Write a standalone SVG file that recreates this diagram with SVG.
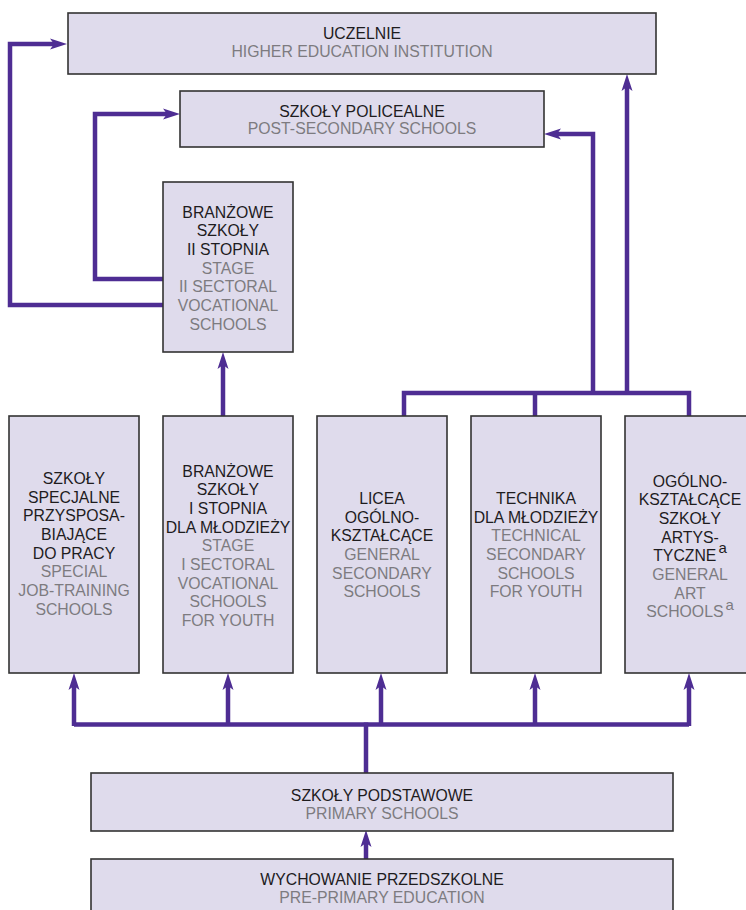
<svg xmlns="http://www.w3.org/2000/svg" width="746" height="910" viewBox="0 0 746 910">
<style>
.box{fill:#dfdbec;stroke:#333333;stroke-width:1.6}
.t{font-family:"Liberation Sans",Arial,sans-serif;font-size:15.8px;text-anchor:middle}
.pl{fill:#1e1c1e}
.en{fill:#7d7b80}
.sup{font-size:15px}
.con{fill:none;stroke:#4e2d93;stroke-width:4.5;stroke-linejoin:miter;stroke-linecap:butt}
</style>
<defs>
<marker id="ah" markerUnits="userSpaceOnUse" viewBox="-18 -7 20 14" markerWidth="20" markerHeight="14" refX="-10" refY="0" orient="auto">
<path d="M0,0 L-17,-5.5 L-13,0 L-17,5.5 Z" fill="#4e2d93"/>
</marker>
</defs>
<rect width="746" height="910" fill="#ffffff"/>

<g id="connectors">
<path class="con" d="M163,305 H10 V44 H57" marker-end="url(#ah)"/>
<path class="con" d="M163,279 H95 V114 H170" marker-end="url(#ah)"/>
<path class="con" d="M223,416 V362" marker-end="url(#ah)"/>
<path class="con" d="M404,416 V393 H689 V416"/>
<path class="con" d="M535,393 V416"/>
<path class="con" d="M593,393 V134 H554" marker-end="url(#ah)"/>
<path class="con" d="M627,393 V84" marker-end="url(#ah)"/>
<path class="con" d="M74,724.5 H689"/>
<path class="con" d="M74,726 V683" marker-end="url(#ah)"/>
<path class="con" d="M228,726 V683" marker-end="url(#ah)"/>
<path class="con" d="M381,726 V683" marker-end="url(#ah)"/>
<path class="con" d="M535,726 V683" marker-end="url(#ah)"/>
<path class="con" d="M689,726 V683" marker-end="url(#ah)"/>
<path class="con" d="M366,773 V722.5"/>
<path class="con" d="M366,859 V840" marker-end="url(#ah)"/>
</g>

<g id="uczelnie">
<rect class="box" x="68" y="13" width="588" height="61"/>
<text class="t pl" x="362" y="39">UCZELNIE</text>
<text class="t en" x="362" y="57">HIGHER EDUCATION INSTITUTION</text>
</g>

<g id="policealne">
<rect class="box" x="180" y="91" width="364" height="56"/>
<text class="t pl" x="362" y="116.7">SZKOŁY POLICEALNE</text>
<text class="t en" x="362" y="134">POST-SECONDARY SCHOOLS</text>
</g>

<g id="branzowe2">
<rect class="box" x="163" y="182" width="130" height="170"/>
<text class="t pl" x="228" y="217.7">BRANŻOWE</text>
<text class="t pl" x="228" y="236.3">SZKOŁY</text>
<text class="t pl" x="228" y="255">II STOPNIA</text>
<text class="t en" x="228" y="273.7">STAGE</text>
<text class="t en" x="228" y="292.3">II SECTORAL</text>
<text class="t en" x="228" y="311">VOCATIONAL</text>
<text class="t en" x="228" y="329.7">SCHOOLS</text>
</g>

<g id="specjalne">
<rect class="box" x="9" y="416" width="130" height="257"/>
<text class="t pl" x="74" y="484">SZKOŁY</text>
<text class="t pl" x="74" y="502.7">SPECJALNE</text>
<text class="t pl" x="74" y="521.3">PRZYSPOSA-</text>
<text class="t pl" x="74" y="540">BIAJĄCE</text>
<text class="t pl" x="74" y="558.7">DO PRACY</text>
<text class="t en" x="74" y="577.3">SPECIAL</text>
<text class="t en" x="74" y="596">JOB-TRAINING</text>
<text class="t en" x="74" y="614.7">SCHOOLS</text>
</g>

<g id="branzowe1">
<rect class="box" x="163" y="416" width="130" height="257"/>
<text class="t pl" x="228" y="476.7">BRANŻOWE</text>
<text class="t pl" x="228" y="495.3">SZKOŁY</text>
<text class="t pl" x="228" y="514">I STOPNIA</text>
<text class="t pl" x="228" y="532.7">DLA MŁODZIEŻY</text>
<text class="t en" x="228" y="551.3">STAGE</text>
<text class="t en" x="228" y="570">I SECTORAL</text>
<text class="t en" x="228" y="588.7">VOCATIONAL</text>
<text class="t en" x="228" y="607.3">SCHOOLS</text>
<text class="t en" x="228" y="626">FOR YOUTH</text>
</g>

<g id="licea">
<rect class="box" x="317" y="416" width="130" height="257"/>
<text class="t pl" x="382" y="504">LICEA</text>
<text class="t pl" x="382" y="522.7">OGÓLNO-</text>
<text class="t pl" x="382" y="541.3">KSZTAŁCĄCE</text>
<text class="t en" x="382" y="560">GENERAL</text>
<text class="t en" x="382" y="578.7">SECONDARY</text>
<text class="t en" x="382" y="597.3">SCHOOLS</text>
</g>

<g id="technika">
<rect class="box" x="471" y="416" width="130" height="257"/>
<text class="t pl" x="536" y="504">TECHNIKA</text>
<text class="t pl" x="536" y="522.7">DLA MŁODZIEŻY</text>
<text class="t en" x="536" y="541.3">TECHNICAL</text>
<text class="t en" x="536" y="560">SECONDARY</text>
<text class="t en" x="536" y="578.7">SCHOOLS</text>
<text class="t en" x="536" y="597.3">FOR YOUTH</text>
</g>

<g id="artystyczne">
<rect class="box" x="625" y="416" width="130" height="257"/>
<text class="t pl" x="690" y="486.7">OGÓLNO-</text>
<text class="t pl" x="690" y="505.3">KSZTAŁCĄCE</text>
<text class="t pl" x="690" y="524">SZKOŁY</text>
<text class="t pl" x="690" y="542.7">ARTYS-</text>
<text class="t pl" x="690" y="561.3">TYCZNE<tspan class="sup" dx="2" dy="-8">a</tspan></text>
<text class="t en" x="690" y="580">GENERAL</text>
<text class="t en" x="690" y="598.7">ART</text>
<text class="t en" x="690" y="617.3">SCHOOLS<tspan class="sup" dx="2" dy="-7">a</tspan></text>
</g>

<g id="podstawowe">
<rect class="box" x="91" y="773" width="582" height="58"/>
<text class="t pl" x="382" y="801">SZKOŁY PODSTAWOWE</text>
<text class="t en" x="382" y="819">PRIMARY SCHOOLS</text>
</g>

<g id="przedszkolne">
<rect class="box" x="91" y="859" width="582" height="60"/>
<text class="t pl" x="382" y="885">WYCHOWANIE PRZEDSZKOLNE</text>
<text class="t en" x="382" y="903">PRE-PRIMARY EDUCATION</text>
</g>
</svg>
